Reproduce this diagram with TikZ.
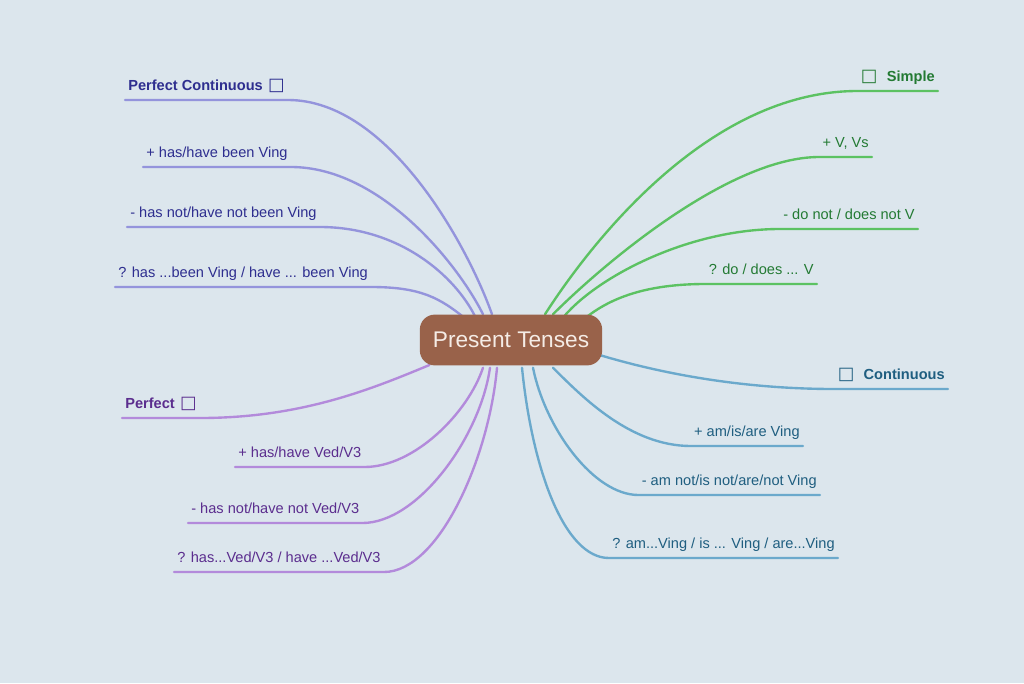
\documentclass[tikz,border=0pt]{standalone}
\usepackage{fontspec}
\setmainfont{Liberation Sans}
\newfontfamily\symbfont{DejaVu Sans}
\usepackage{tikz}
\usetikzlibrary{calc, backgrounds}
\definecolor{paper}{HTML}{DCE6ED}
\definecolor{rootfill}{HTML}{99624A}
\definecolor{roottext}{HTML}{F5ECE6}
\definecolor{pcline}{HTML}{9494DC}
\definecolor{pctext}{HTML}{2E2E8F}
\definecolor{simline}{HTML}{5CC262}
\definecolor{simtext}{HTML}{237A33}
\definecolor{conline}{HTML}{6BA9CC}
\definecolor{contxt}{HTML}{1F5E80}
\definecolor{perline}{HTML}{B38ADB}
\definecolor{pertext}{HTML}{5B2D8E}
\newcommand{\tickbox}{{\symbfont\fontsize{10}{10}\selectfont □}}
\tikzset{
  root/.style = {fill=rootfill, rounded corners=8.5pt, minimum width=103.8pt,
                 minimum height=28.9pt, inner sep=0pt, text=roottext,
                 font=\fontsize{12.9}{15}\selectfont},
  leaf/.style = {font=\fontsize{8.3}{10}\selectfont, inner xsep=1.7pt, inner ysep=3.6pt,
                 text height=6pt, text depth=1.8pt},
  head/.style = {leaf, font=\fontsize{8.3}{10}\selectfont\bfseries},
  twig/.style = {line width=1.35pt, line cap=round},
}

\begin{document}
\begin{tikzpicture}[x=0.02cm, y=-0.02cm]
  \useasboundingbox (0,0) rectangle (1024,683);
  \node[root] (pt) at (511,340) {Present Tenses};

  % perfect continuous
  \node[head, text=pctext, anchor=south west] (pc0) at (125,100) {Perfect Continuous\hspace{3pt}\tickbox};
  \node[leaf, text=pctext, anchor=south west] (pc1) at (143,167) {+ has/have been Ving};
  \node[leaf, text=pctext, anchor=south west] (pc2) at (127,227) {- has not/have not been Ving};
  \node[leaf, text=pctext, anchor=south west] (pc3) at (115,287) {? has ...been Ving / have ... been Ving};

  % simple
  \node[head, text=simtext, anchor=south east] (s0) at (938,91) {\tickbox\hspace{3pt} Simple};
  \node[leaf, text=simtext, anchor=south east] (s1) at (872,157) {+ V, Vs};
  \node[leaf, text=simtext, anchor=south east] (s2) at (918,229) {- do not / does not V};
  \node[leaf, text=simtext, anchor=south east] (s3) at (817,284) {? do / does ... V};

  % continuous
  \node[head, text=contxt, anchor=south east] (c0) at (948,389) {\tickbox\hspace{3pt} Continuous};
  \node[leaf, text=contxt, anchor=south east] (c1) at (803,446) {+ am/is/are Ving};
  \node[leaf, text=contxt, anchor=south east] (c2) at (820,495) {- am not/is not/are/not Ving};
  \node[leaf, text=contxt, anchor=south east] (c3) at (838,558) {? am...Ving / is ... Ving / are...Ving};

  % perfect
  \node[head, text=pertext, anchor=south west] (p0) at (122,418) {Perfect\hspace{3pt}\tickbox};
  \node[leaf, text=pertext, anchor=south west] (p1) at (235,467) {+ has/have Ved/V3};
  \node[leaf, text=pertext, anchor=south west] (p2) at (188,523) {- has not/have not Ved/V3};
  \node[leaf, text=pertext, anchor=south west] (p3) at (174,572) {? has...Ved/V3 / have ...Ved/V3};

  \begin{scope}[on background layer]
    \fill[paper] (0,0) rectangle (1024,683);
    % branches, top left
    \draw[twig, pcline] ($(pt.north)+(-19,0)$) .. controls +(-25,-70) and +(100,0) .. (pc0.south east) -- (pc0.south west);
    \draw[twig, pcline] ($(pt.north)+(-28,0)$) .. controls +(-25,-50) and +(90,0) .. (pc1.south east) -- (pc1.south west);
    \draw[twig, pcline] ($(pt.north)+(-36,2)$) .. controls +(-20,-40) and +(80,0) .. (pc2.south east) -- (pc2.south west);
    \draw[twig, pcline] ($(pt.north)+(-46,4)$) .. controls +(-25,-20) and +(50,0) .. (pc3.south east) -- (pc3.south west);
    % top right
    \draw[twig, simline] ($(pt.north)+(34,0)$) .. controls +(45,-70) and +(-150,0) .. (s0.south west) -- (s0.south east);
    \draw[twig, simline] ($(pt.north)+(42,0)$) .. controls +(50,-50) and +(-90,0) .. (s1.south west) -- (s1.south east);
    \draw[twig, simline] ($(pt.north)+(54,1)$) .. controls +(35,-40) and +(-90,0) .. (s2.south west) -- (s2.south east);
    \draw[twig, simline] ($(pt.north)+(74,4)$) .. controls +(25,-20) and +(-60,0) .. (s3.south west) -- (s3.south east);
    % bottom right
    \draw[twig, conline] ($(pt.east)+(-3,15)$) .. controls +(40,12) and +(-110,0) .. (c0.south west) -- (c0.south east);
    \draw[twig, conline] ($(pt.south)+(42,2)$) .. controls +(30,30) and +(-60,0) .. (c1.south west) -- (c1.south east);
    \draw[twig, conline] ($(pt.south)+(22,2)$) .. controls +(12,60) and +(-45,0) .. (c2.south west) -- (c2.south east);
    \draw[twig, conline] ($(pt.south)+(11,2)$) .. controls +(10,100) and +(-45,0) .. (c3.south west) -- (c3.south east);
    % bottom left
    \draw[twig, perline] ($(pt.west)+(10,25)$) .. controls +(-60,25) and +(100,0) .. (p0.south east) -- (p0.south west);
    \draw[twig, perline] ($(pt.south)+(-28,2)$) .. controls +(-15,45) and +(50,0) .. (p1.south east) -- (p1.south west);
    \draw[twig, perline] ($(pt.south)+(-21,2)$) .. controls +(-10,70) and +(55,0) .. (p2.south east) -- (p2.south west);
    \draw[twig, perline] ($(pt.south)+(-14,2)$) .. controls +(-8,90) and +(55,0) .. (p3.south east) -- (p3.south west);
  \end{scope}
\end{tikzpicture}
\end{document}
